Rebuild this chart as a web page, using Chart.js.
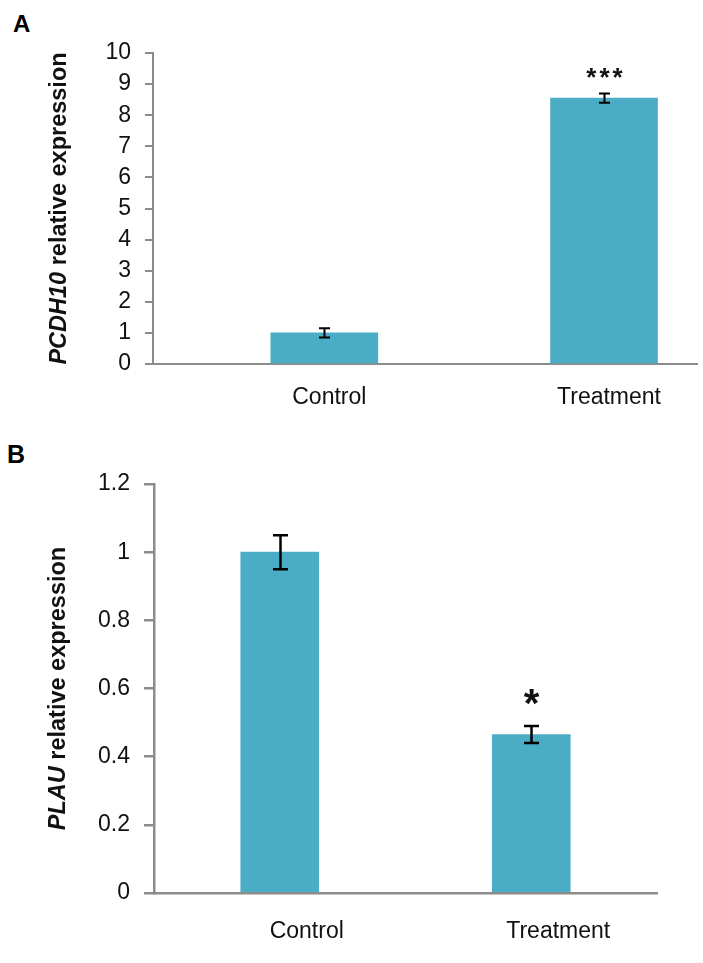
<!DOCTYPE html>
<html>
<head>
<meta charset="utf-8">
<script src="https://cdn.jsdelivr.net/npm/chart.js@4/dist/chart.umd.min.js"></script>
<style>
  body { margin: 0; background: #fff; }
  #wrap { position: relative; width: 703px; height: 963px; }
  canvas { position: absolute; left: 0; }
  .tag { position: absolute; font-family: "Liberation Sans", Arial, sans-serif; font-weight: bold; line-height: 1; color: #000; }
</style>
</head>
<body>
<div id="wrap">
  <div class="tag" style="left:13px; top:12px; font-size:24px;">A</div>
  <canvas id="chartA" width="703" height="430" style="top:0"></canvas>
  <div class="tag" style="left:7px; top:442px; font-size:25px;">B</div>
  <canvas id="chartB" width="703" height="533" style="top:430px"></canvas>
</div>
<script>
// data
const categories = ['Control', 'Treatment'];

const pcdh10Values = [1.0, 8.55];
const pcdh10Errors = [0.15, 0.15];
const pcdh10Marks = ['', '***'];
const pcdh10Range = [0, 10, 1]; // min, max, step

const plauValues = [1.0, 0.465];
const plauErrors = [0.05, 0.025];
const plauMarks = ['', '*'];
const plauRange = [0, 1.2, 0.2];

const BAR = '#4BACC6';
const AXIS = '#8c8c8c';
const FONT = '"Liberation Sans", Arial, sans-serif';
Chart.defaults.font.family = FONT;

// error bars + significance stars
const errorBars = {
  id: 'errorBars',
  afterDatasetsDraw(chart, args, o) {
    const ctx = chart.ctx, y = chart.scales.y;
    const pts = chart.data.datasets[0].data;
    ctx.save();
    ctx.strokeStyle = '#000';
    ctx.fillStyle = '#111';
    ctx.lineWidth = o.lineWidth;
    chart.getDatasetMeta(0).data.forEach((bar, i) => {
      const v = pts[i].y, e = o.errors[i];
      const top = y.getPixelForValue(v + e), bot = y.getPixelForValue(v - e);
      const x = Math.round(bar.x) + 0.5;
      ctx.beginPath();
      ctx.moveTo(x, top); ctx.lineTo(x, bot);
      ctx.moveTo(x - o.cap / 2, top); ctx.lineTo(x + o.cap / 2, top);
      ctx.moveTo(x - o.cap / 2, bot); ctx.lineTo(x + o.cap / 2, bot);
      ctx.stroke();
      if (o.marks[i]) {
        ctx.font = 'bold ' + o.markSize + 'px ' + FONT;
        ctx.textAlign = 'center';
        ctx.textBaseline = 'alphabetic';
        ctx.letterSpacing = o.markSpacing + 'px';
        ctx.fillText(o.marks[i], x + o.markSpacing / 2, top - o.markGap);
      }
    });
    ctx.restore();
  }
};

// y title with italic gene name
const yTitle = {
  id: 'yTitle',
  afterDraw(chart, args, o) {
    const ctx = chart.ctx, a = chart.chartArea;
    ctx.save();
    ctx.translate(o.x, (a.top + a.bottom) / 2);
    ctx.rotate(-Math.PI / 2);
    ctx.textBaseline = 'middle';
    ctx.textAlign = 'left';
    ctx.fillStyle = '#111';
    const fonts = o.parts.map(p => (p.italic ? 'italic ' : '') + 'bold ' + o.size + 'px ' + FONT);
    let total = 0;
    o.parts.forEach((p, i) => { ctx.font = fonts[i]; total += ctx.measureText(p.text).width; });
    let cx = -total / 2;
    o.parts.forEach((p, i) => {
      ctx.font = fonts[i];
      ctx.fillText(p.text, cx, 0);
      cx += ctx.measureText(p.text).width;
    });
    ctx.restore();
  }
};

function panel(id, p) {
  return new Chart(document.getElementById(id), {
    type: 'bar',
    data: {
      datasets: [{
        data: categories.map((c, i) => ({ x: i + 1, y: p.values[i] })),
        backgroundColor: BAR,
        barThickness: p.barWidth,
        borderWidth: 0
      }]
    },
    options: {
      responsive: false,
      animation: false,
      layout: { padding: p.padding },
      plugins: {
        legend: { display: false },
        tooltip: { enabled: false },
        errorBars: { errors: p.errors, marks: p.marks, cap: p.cap, lineWidth: p.errWidth,
                     markSize: p.markSize, markSpacing: p.markSpacing, markGap: p.markGap },
        yTitle: { parts: p.title, x: p.titleX, size: 23.5 }
      },
      scales: {
        x: {
          type: 'linear',
          offset: false,
          min: p.xRange[0], max: p.xRange[1],
          afterBuildTicks: s => { s.ticks = categories.map((c, i) => ({ value: i + 1 })); },
          afterFit: s => { s.height = p.xHeight; },
          ticks: {
            autoSkip: false, maxRotation: 0,
            callback: v => categories[Math.round(v) - 1],
            labelOffset: p.labelOffset,
            padding: p.labelPad,
            color: '#111',
            font: { size: 23 }
          },
          grid: { display: false, drawTicks: false },
          border: { display: true, color: AXIS, width: p.axisWidth }
        },
        y: {
          min: p.range[0], max: p.range[1],
          afterFit: s => { s.width = p.yWidth; },
          ticks: {
            stepSize: p.range[2], padding: 14, color: '#111', font: { size: 23 },
            callback: v => String(+v.toFixed(2))
          },
          grid: { drawOnChartArea: false, drawTicks: true, tickLength: p.tickLen, color: AXIS, lineWidth: p.axisWidth },
          border: { display: true, color: AXIS, width: p.axisWidth }
        }
      }
    },
    plugins: [errorBars, yTitle]
  });
}

panel('chartA', {
  values: pcdh10Values, errors: pcdh10Errors, marks: pcdh10Marks, range: pcdh10Range,
  title: [{ text: 'PCDH10', italic: true }, { text: ' relative expression' }],
  titleX: 60, padding: { left: 0, right: 6, top: 53, bottom: 0 },
  yWidth: 153, xHeight: 66, xRange: [0.3875, 2.3324],
  barWidth: 107, cap: 11, errWidth: 2, markSize: 26, markSpacing: 3, markGap: 7,
  labelOffset: 5, labelPad: 20, axisWidth: 2, tickLen: 8
});

panel('chartB', {
  values: plauValues, errors: plauErrors, marks: plauMarks, range: plauRange,
  title: [{ text: 'PLAU', italic: true }, { text: ' relative expression' }],
  titleX: 59, padding: { left: 0, right: 46, top: 54, bottom: 0 },
  yWidth: 154, xHeight: 70, xRange: [0.5, 2.5],
  barWidth: 78, cap: 15, errWidth: 2.5, markSize: 40, markSpacing: 0, markGap: 9,
  labelOffset: 27, labelPad: 25, axisWidth: 2.5, tickLen: 10
});
</script>
</body>
</html>
